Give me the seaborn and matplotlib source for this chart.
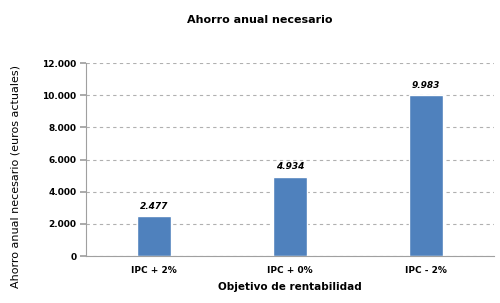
import matplotlib
matplotlib.use("Agg")
import matplotlib.pyplot as plt
import seaborn as sns
import pandas as pd
from matplotlib.ticker import FuncFormatter

categories = ["IPC + 2%", "IPC + 0%", "IPC - 2%"]
values = [2477, 4934, 9983]
yticks = [0, 2000, 4000, 6000, 8000, 10000, 12000]

def fmt(v):
    return f"{int(v):,}".replace(",", ".")

sns.set_theme(style="white")
plt.rcParams['font.family'] = ['DejaVu Sans']
plt.rcParams['text.color'] = 'black'
plt.rcParams['axes.labelcolor'] = 'black'
plt.rcParams['xtick.color'] = 'black'
plt.rcParams['ytick.color'] = 'black'

df = pd.DataFrame({"cat": categories, "val": values})
fig = plt.figure(figsize=(5, 3.03), dpi=100)
ax = fig.add_axes([0.172, 0.155, 0.816, 0.637])

sns.barplot(data=df, x="cat", y="val", color="#4F81BD", width=0.25, ax=ax, saturation=1)

ax.set_ylim(0, 12000)
ax.set_yticks(yticks)
ax.yaxis.set_major_formatter(FuncFormatter(lambda v, p: fmt(v)))
ax.grid(axis="y", linestyle=(0, (3, 3)), color="#B0B0B0", linewidth=0.8)
ax.set_axisbelow(True)
for s in ["top", "right"]:
    ax.spines[s].set_visible(False)
for s in ["left", "bottom"]:
    ax.spines[s].set_color("#A0A0A0")
    ax.spines[s].set_linewidth(0.8)
ax.tick_params(axis="y", left=True, length=4, color="#A0A0A0", labelcolor="black", labelsize=6.5, pad=3)
ax.tick_params(axis="x", bottom=False, labelcolor="black", labelsize=6.5, pad=1)
for lab in ax.get_yticklabels() + ax.get_xticklabels():
    lab.set_fontweight("bold")

for i, v in enumerate(values):
    ax.text(i, v + 350, fmt(v), ha="center", va="bottom", fontsize=6.5,
            fontweight="bold", fontstyle="italic", color="black")

ax.set_xlabel("Objetivo de rentabilidad", fontsize=7.5, fontweight="bold", color="black")
ax.set_ylabel("Ahorro anual necesario (euros actuales)", fontsize=8, color="black")
ax.xaxis.set_label_coords(0.5, -0.135)
ax.yaxis.set_label_coords(-0.16, 0.41)
fig.text(0.52, 0.935, "Ahorro anual necesario", ha="center", va="center", fontsize=8, fontweight="bold", color="black")

fig.savefig("out.png", dpi=100)
